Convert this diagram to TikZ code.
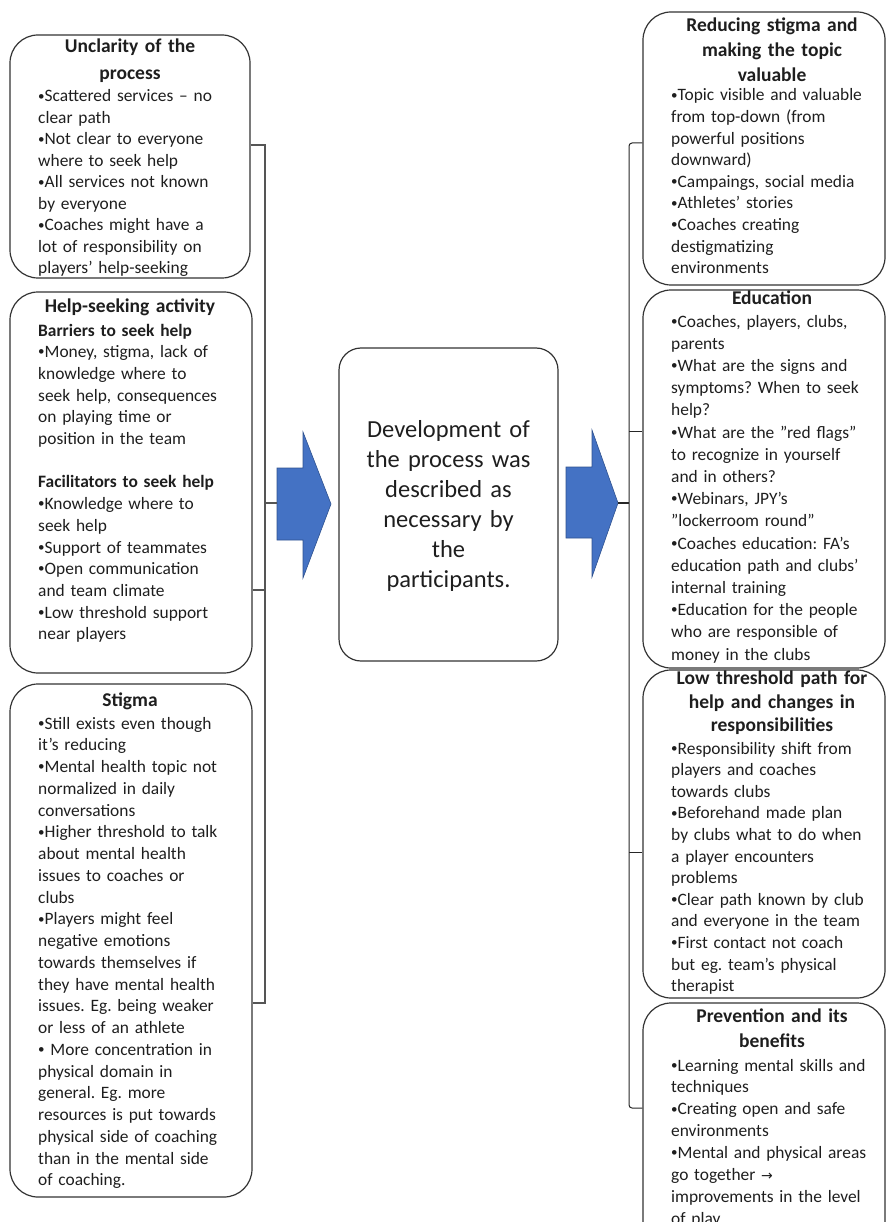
\documentclass[tikz,border=0pt]{standalone}
\usepackage{fontspec}
\setmainfont{Carlito}
\newfontfamily\arrowfont{DejaVu Sans}
\usepackage{xcolor}
\usetikzlibrary{positioning,calc}
\frenchspacing

\definecolor{arrowblue}{HTML}{4472C4}
\definecolor{arrowedge}{HTML}{2F528F}
\definecolor{bracketgray}{HTML}{555555}
\definecolor{inkgray}{HTML}{1E1E1E}

\newcommand{\itemdot}{\raisebox{0.1em}{\scalebox{0.75}{•}}}

\tikzset{
  topicbox/.style={draw=black!80, line width=1.2pt, rounded corners=28pt, inner sep=0pt},
  titletext/.style={text=inkgray, font=\bfseries\fontsize{19.5}{25}\selectfont, align=center, text width=236pt, inner sep=0pt, anchor=base},
  bodytext/.style={text=inkgray, font=\fontsize{17.4}{21.7}\selectfont, align=left, text width=236pt, inner sep=0pt, anchor=base west},
  centertext/.style={text=inkgray, font=\fontsize{24.5}{30}\selectfont, align=center, text width=215pt, inner sep=0pt, anchor=base},
  leftbracket/.style={draw=bracketgray, line width=1.5pt},
  rightbracket/.style={draw=black!85, line width=1pt, rounded corners=3pt},
  blockarrow/.style={fill=arrowblue, draw=arrowedge, line width=0.6pt},
}

\begin{document}
\begin{tikzpicture}[x=1pt,y=-1pt]
\useasboundingbox (0,0) rectangle (888,1222);
\clip (0,0) rectangle (888,1222);

% left column
\node[topicbox, minimum width=240, minimum height=243] (unclear) at (130,156.5) {};
\node[titletext, font=\bfseries\fontsize{19.5}{27}\selectfont] (unclear-title) at (130,52.6) {Unclarity of the\\process};
\node[bodytext, font=\fontsize{17.4}{21.5}\selectfont] (unclear-list) at (38,102) {\itemdot Scattered services – no\\clear path\\\itemdot Not clear to everyone\\where to seek help\\\itemdot All services not known\\by everyone\\\itemdot Coaches might have a\\lot of responsibility on\\players’ help-seeking};

\node[topicbox, minimum width=242, minimum height=381] (helpseek) at (131,482.5) {};
\node[titletext] (helpseek-title) at (130,312.6) {Help-seeking activity};
\node[bodytext] (helpseek-list) at (38,336) {\textbf{Barriers to seek help}\\\itemdot Money, stigma, lack of\\knowledge where to\\seek help, consequences\\on playing time or\\position in the team\\[21.7pt]\textbf{Facilitators to seek help}\\\itemdot Knowledge where to\\seek help\\\itemdot Support of teammates\\\itemdot Open communication\\and team climate\\\itemdot Low threshold support\\near players};

\node[topicbox, minimum width=242, minimum height=513] (stigma) at (131,940.5) {};
\node[titletext] (stigma-title) at (130,706.6) {Stigma};
\node[bodytext, font=\fontsize{17.4}{21.76}\selectfont] (stigma-list) at (38,729) {\itemdot Still exists even though\\it’s reducing\\\itemdot Mental health topic not\\normalized in daily\\conversations\\\itemdot Higher threshold to talk\\about mental health\\issues to coaches or\\clubs\\\itemdot Players might feel\\negative emotions\\towards themselves if\\they have mental health\\issues. Eg. being weaker\\or less of an athlete\\\itemdot{} More concentration in\\physical domain in\\general. Eg. more\\resources is put towards\\physical side of coaching\\than in the mental side\\of coaching.};

% left bracket
\coordinate (lb-top) at (265,145);
\coordinate (lb-mid) at (265,590);
\coordinate (lb-bot) at (265,1003);
\coordinate (lb-out) at (265,503);
\draw[leftbracket] (unclear.east |- lb-top) -- (lb-top) -- (lb-bot) -- (stigma.east |- lb-bot);
\draw[leftbracket] (helpseek.east |- lb-mid) -- (lb-mid);

% arrows and centre
\draw[blockarrow] (277,468) -- (303,468) -- (303,432) -- (331,504) -- (303,578) -- (303,540) -- (277,540) -- cycle;
\coordinate (larrow-tail) at (277,503);
\draw[leftbracket] (lb-out) -- (larrow-tail);

\node[topicbox, rounded corners=22pt, minimum width=219, minimum height=313] (process) at (448.5,504.5) {};
\node[centertext] (process-text) at (448.5,437.7) {Development of\\the process was\\described as\\necessary by\\the\\participants.};

\draw[blockarrow] (566,467) -- (592,467) -- (592,430) -- (618,503) -- (592,577) -- (592,538) -- (566,538) -- cycle;
\coordinate (rarrow-tip) at (618,503);

% right column
\node[topicbox, minimum width=242, minimum height=273] (reduce) at (764,148.5) {};
\node[titletext] (reduce-title) at (772,31.6) {Reducing stigma and\\making the topic\\valuable};
\node[bodytext, font=\fontsize{17.4}{21.6}\selectfont] (reduce-list) at (671,101) {\itemdot Topic visible and valuable\\from top-down (from\\powerful positions\\downward)\\\itemdot Campaings, social media\\\itemdot Athletes’ stories\\\itemdot Coaches creating\\destigmatizing\\environments};

\node[topicbox, minimum width=242, minimum height=378] (educ) at (764,479) {};
\node[titletext] (educ-title) at (772,304.6) {Education};
\node[bodytext, font=\fontsize{17.4}{22.2}\selectfont] (educ-list) at (671,327) {\itemdot Coaches, players, clubs,\\parents\\\itemdot What are the signs and\\symptoms? When to seek\\help?\\\itemdot What are the ”red flags”\\to recognize in yourself\\and in others?\\\itemdot Webinars, JPY’s\\”lockerroom round”\\\itemdot Coaches education: FA’s\\education path and clubs’\\internal training\\\itemdot Education for the people\\who are responsible of\\money in the clubs};

\node[topicbox, minimum width=242, minimum height=328] (lowpath) at (764,834) {};
\node[titletext, font=\bfseries\fontsize{19.5}{23.5}\selectfont] (lowpath-title) at (772,684.6) {Low threshold path for\\help and changes in\\responsibilities};
\node[bodytext, font=\fontsize{17.4}{21.6}\selectfont] (lowpath-list) at (671,754) {\itemdot Responsibility shift from\\players and coaches\\towards clubs\\\itemdot Beforehand made plan\\by clubs what to do when\\a player encounters\\problems\\\itemdot Clear path known by club\\and everyone in the team\\\itemdot First contact not coach\\but eg. team’s physical\\therapist};

\node[topicbox, minimum width=242, minimum height=250] (prevent) at (764,1128) {};
\node[titletext] (prevent-title) at (772,1022.6) {Prevention and its\\benefits};
\node[bodytext, font=\fontsize{17.4}{21.9}\selectfont] (prevent-list) at (671,1071) {\itemdot Learning mental skills and\\techniques\\\itemdot Creating open and safe\\environments\\\itemdot Mental and physical areas\\go together {\arrowfont\fontsize{14}{21.9}\selectfont →}\\improvements in the level\\of play};

% right bracket
\coordinate (rb-top) at (629,143);
\coordinate (rb-educ) at (629,431);
\coordinate (rb-low) at (629,852);
\coordinate (rb-bot) at (629,1108);
\draw[rightbracket] (reduce.west |- rb-top) -- (rb-top) -- (rb-bot) -- (prevent.west |- rb-bot);
\draw[rightbracket] (rb-educ) -- (educ.west |- rb-educ);
\draw[rightbracket] (rb-low) -- (lowpath.west |- rb-low);
\draw[rightbracket, line width=1.5pt] (rarrow-tip) -- (rarrow-tip -| rb-top);

\end{tikzpicture}
\end{document}
